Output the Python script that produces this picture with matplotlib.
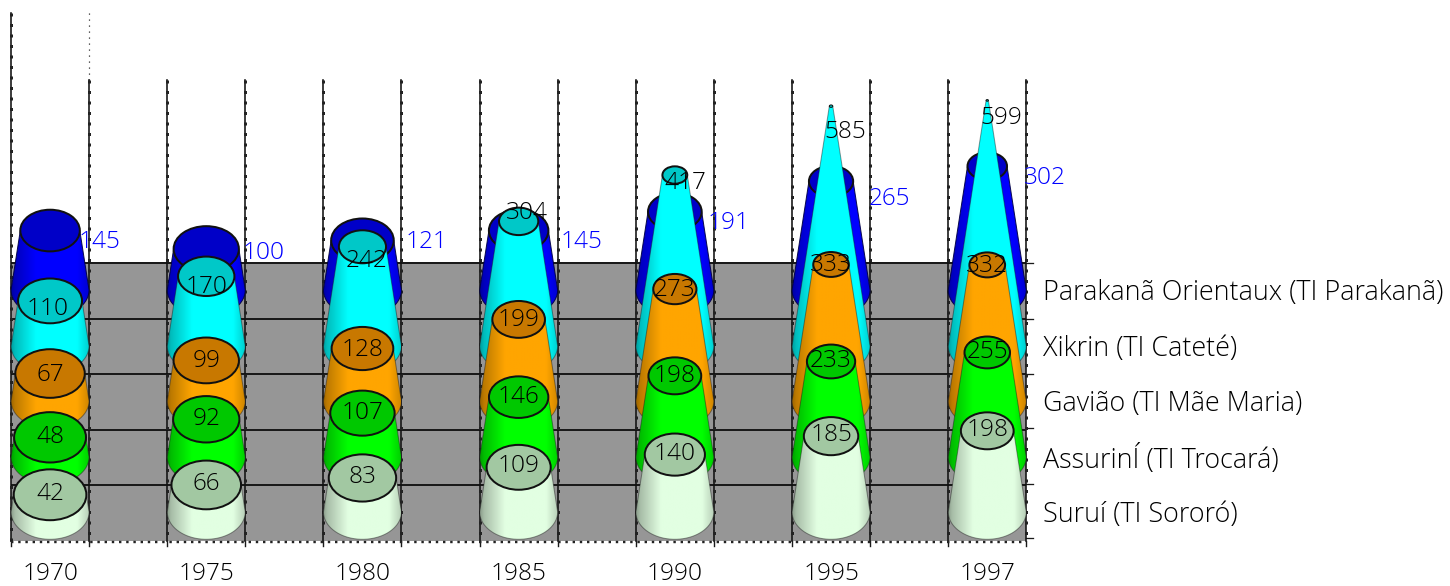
import numpy as np
import matplotlib
matplotlib.use("Agg")
import matplotlib.pyplot as plt
from matplotlib.patches import Ellipse, Polygon
from matplotlib.colors import to_rgb

plt.rcParams['font.family'] = ['Open Sans', 'Noto Sans', 'DejaVu Sans']
plt.rcParams['font.weight'] = 'light'

# ---------- data ----------
years = ['1970', '1975', '1980', '1985', '1990', '1995', '1997']
series_names = ['Suruí (TI Sororó)', 'AssurinÍ (TI Trocará)', 'Gavião (TI Mãe Maria)',
                'Xikrin (TI Cateté)', 'Parakanã Orientaux (TI Parakanã)']
surui = [42, 66, 83, 109, 140, 185, 198]
assurini = [48, 92, 107, 146, 198, 233, 255]
gaviao = [67, 99, 128, 199, 273, 333, 332]
xikrin = [110, 170, 242, 304, 417, 585, 599]
parakana = [145, 100, 121, 145, 191, 265, 302]
all_series = [surui, assurini, gaviao, xikrin, parakana]

# ---------- styles / layout (pixels) ----------
side_colors = ['#E2FFE2', '#00FF00', '#FFA500', '#00FFFF', '#0000FF']
top_colors = ['#A2C8A2', '#00C800', '#C87800', '#00C8C8', '#0000C8']
row_base = [512, 457, 401, 346, 290]   # y pixel of value 0 per depth row
px_per_unit = 0.41
floor_y = [263, 319, 374, 430, 485, 541]
right_tick_y = [263, 319, 374, 428, 484, 538]
x_left, cell = 11.0, 78.1
R_base, apex_value = 39.0, 612.0
squash = 0.70
label_dy = [-1, 0, 1, 3, 2]
blue_off = [(49, 11), (57, 4), (64, 2), (63, 11), (54, 11), (58, 18), (58, 12)]
xik_off = [(-2, 8), (0, 11), (4, 14), (8, -8), (11, 8), (14, 26), (14, 18)]
FS = 17.6
LEG_FS = 19.5

W, H = 1450, 586
fig = plt.figure(figsize=(W / 100, H / 100), dpi=100)
ax = fig.add_axes([0, 0, 1, 1])
ax.set_xlim(0, W)
ax.set_ylim(H, 0)
ax.axis('off')

n_cells = 2 * len(years) - 1
x_right = x_left + n_cells * cell
px = 0.72
DK = '#1a1a1a'

# floor
ax.fill_between([x_left, x_right], floor_y[0], floor_y[-1], color='#969696', lw=0, zorder=1)
for y in floor_y[:-1]:
    ax.plot([x_left, x_right], [y, y], color=DK, lw=2 * px, zorder=2, solid_capstyle='butt')
for y in right_tick_y:
    ax.plot([x_right, x_right + 7], [y, y], color=DK, lw=1.3 * px, zorder=2)

# verticals
for k in range(n_cells + 1):
    x = x_left + k * cell
    top = 13 if k == 0 else 80
    ax.plot([x, x], [top, floor_y[-1]], color='#111111', lw=1.6 * px, zorder=2)
    ax.plot([x, x], [top, floor_y[-1]], color='#222222', lw=3 * px, zorder=2,
            linestyle=(0, (1, 2.5)))
    ax.plot([x, x], [floor_y[-1], floor_y[-1] + 5], color=DK, lw=1.4 * px, zorder=2)
ax.plot([x_left + cell] * 2, [13, 80], color='#222222', lw=1.2 * px, linestyle=(0, (1, 4)), zorder=2)
ax.plot([x_left, x_right], [floor_y[-1] + 0.5] * 2, color='#222222', lw=2.4 * px,
        linestyle=(0, (1, 2)), zorder=2)


def gradient_for(col):
    c = np.array(to_rgb(col))
    pos = np.linspace(0, 1, 128)
    f = np.interp(pos, [0, 0.05, 0.32, 0.85, 1.0], [0.62, 0.74, 1.0, 1.0, 0.82])
    return (c[None, None, :] * f[None, :, None])


def cone(cx, value, row, z):
    yb = row_base[row]
    yt = yb - value * px_per_unit
    r = R_base * max(1 - value / apex_value, 0.03)
    th = np.linspace(np.pi, 0, 40)
    bottom = [(cx + R_base * np.cos(t), yb + squash * R_base * np.sin(t)) for t in th]
    pts = [(cx - r, yt)] + bottom + [(cx + r, yt)]
    edge = (0, 0, 0.25, 0.9) if row == 4 else (0.1, 0.1, 0.1, 0.45)
    poly = Polygon(pts, closed=True, facecolor='none', edgecolor=edge, lw=1.0 * px, zorder=z + 0.2)
    ax.add_patch(poly)
    im = ax.imshow(gradient_for(side_colors[row]), aspect='auto', interpolation='bilinear',
                   extent=(cx - R_base, cx + R_base, yb + R_base, yt - 2), zorder=z)
    im.set_clip_path(poly)
    ax.add_patch(Ellipse((cx, yt), 2 * r, 2 * r * squash, facecolor=top_colors[row],
                         edgecolor='#111111', lw=(2 if r > 4 else 1) * px, zorder=z + 0.3))
    return yt


for row in range(4, -1, -1):
    z = 10 + (4 - row) * 2
    for i, v in enumerate(all_series[row]):
        cx = x_left + (2 * i + 0.5) * cell
        yt = cone(cx, v, row, z)
        if row == 4:
            dx, dy = blue_off[i]
            ax.text(cx + dx, yt + dy, str(v), color='#0000FF', fontsize=FS, ha='center',
                    va='center', zorder=30)
        elif row == 3:
            dx, dy = xik_off[i]
            ax.text(cx + dx, yt + dy, str(v), color='black', fontsize=FS, ha='center',
                    va='center', zorder=31)
        else:
            ax.text(cx, yt + label_dy[row], str(v), color='black', fontsize=FS, ha='center',
                    va='center', zorder=31)

for i, y in enumerate(years):
    ax.text(x_left + (2 * i + 0.5) * cell, 574, y, fontsize=FS, ha='center', va='center', color='black')
for row, name in enumerate(series_names):
    ax.text(1043, (floor_y[4 - row] + floor_y[5 - row]) / 2 + 2, name, fontsize=LEG_FS - 0.1, ha='left',
            va='center', color='black')

fig.savefig('out.png', dpi=100)
